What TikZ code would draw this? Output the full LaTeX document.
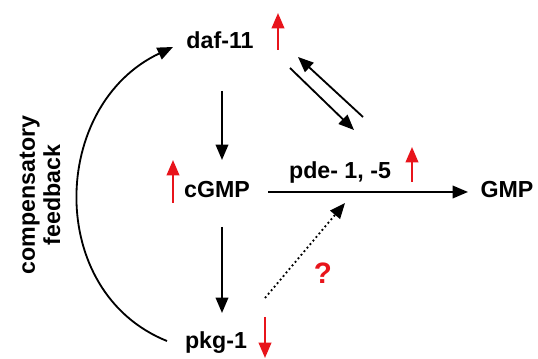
\documentclass[tikz,border=0pt]{standalone}
\usepackage{fontspec}
\setmainfont{Liberation Sans}
\usepackage{tikz}
\usetikzlibrary{arrows.meta,positioning,calc}
\definecolor{upc}{HTML}{E8141B}

\begin{document}
\begin{tikzpicture}[x=0.025cm, y=-0.025cm, font=\fontsize{16.5}{18}\selectfont\bfseries,
  lbl/.style={inner sep=0pt},
  conn/.style={line width=1.3pt, -{Triangle[length=11pt,width=9pt]}},
  chg/.style={upc, line width=1.5pt, -{Triangle[length=11pt,width=9pt]}}]
  \useasboundingbox (0,0) rectangle (538,359);
  \node[lbl] (daf) at (220,40) {daf-11};
  \node[lbl] (cgmp) at (217,190) {cGMP};
  \node[lbl] (pkg) at (216,343) {pkg-1};
  \node[lbl] (gmp) at (507,190) {GMP};
  \node[lbl] (pde) at (340,173) {pde- 1, -5};
  \node[lbl, rotate=90, align=center] (comp) at (40,195) {compensatory\\feedback};
  \node[lbl, text=upc, font=\fontsize{21}{22}\selectfont\bfseries] (q) at (323,273) {?};
  % pathway
  \draw[conn] ($(daf)+(2,51)$) -- ($(cgmp)+(5,-30)$);
  \draw[conn] ($(cgmp)+(5,37)$) -- ($(pkg)+(6,-30)$);
  \draw[conn] ($(cgmp)+(51,2)$) -- ($(gmp)+(-39,2)$);
  \draw[conn] ($(daf)+(70,28)$) -- ($(pde)+(14,-43)$);
  \draw[conn] ($(pde)+(23,-56)$) -- ($(daf)+(78,17)$);
  \draw[conn, dotted] ($(pkg)+(49,-45)$) -- ($(pde)+(5,30)$);
  \draw[conn] ($(pkg)+(-49,-2)$) .. controls (45,292) and (50,105) .. ($(daf)+(-47,7)$);
  % changes
  \draw[chg] ($(daf)+(58,10)$) -- ++(0,-37);
  \draw[chg] ($(cgmp)+(-44,13)$) -- ++(0,-43);
  \draw[chg] ($(pde)+(72,9)$) -- ++(0,-35);
  \draw[chg] ($(pkg)+(49,-26)$) -- ++(0,41);
\end{tikzpicture}
\end{document}
